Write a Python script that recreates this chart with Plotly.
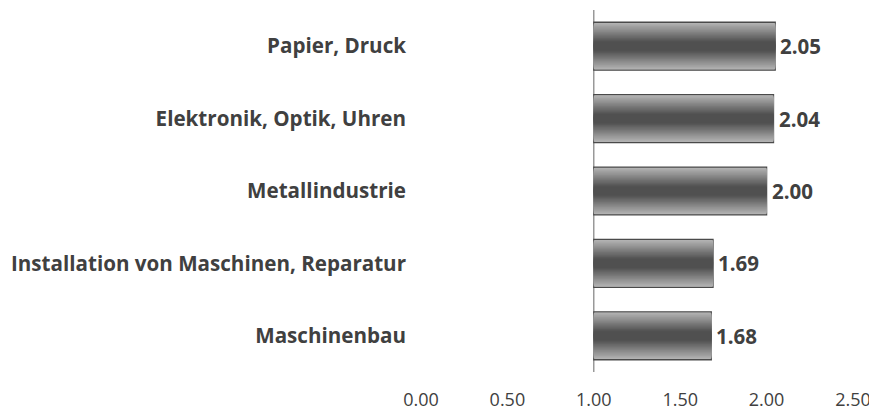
import plotly.graph_objects as go

categories = ["Papier, Druck", "Elektronik, Optik, Uhren", "Metallindustrie",
              "Installation von Maschinen, Reparatur", "Maschinenbau"]
values = [2.05, 2.04, 2.00, 1.69, 1.68]
value_labels = ["2.05", "2.04", "2.00", "1.69", "1.68"]
x_ticks = [0.0, 0.5, 1.0, 1.5, 2.0, 2.5]
x_tick_labels = ["0.00", "0.50", "1.00", "1.50", "2.00", "2.50"]
baseline = 1.0

fig = go.Figure()

# simulate vertical gradient (light edges -> dark centre) with overlaid bars
n_layers = 26
full_w = 0.662
light = (182, 182, 182)
dark = (80, 80, 80)
for k in range(n_layers):
    h = 1 - k / n_layers          # relative half-height of this layer
    f = min(1.0, max(0.0, (1 - h) / 0.8))
    c = tuple(int(round(light[i] + (dark[i] - light[i]) * f)) for i in range(3))
    first = (k == 0)
    fig.add_trace(go.Bar(
        y=categories,
        x=[v - baseline for v in values],
        base=baseline,
        orientation="h",
        width=full_w * h,
        marker=dict(color="rgb(%d,%d,%d)" % c,
                    line=dict(color="#4a4a4a" if first else "rgba(0,0,0,0)",
                              width=1.3 if first else 0)),
        hoverinfo="skip",
        showlegend=False,
    ))

for cat, v, lab in zip(categories, values, value_labels):
    fig.add_annotation(x=v, y=cat, xref="x", yref="y", text=lab, showarrow=False,
                       xanchor="left", xshift=3,
                       font=dict(family="Open Sans", size=20.5, color="#404040",
                                 weight="bold"))

fig.add_shape(type="line", xref="x", yref="paper", x0=baseline, x1=baseline,
              y0=0, y1=1, line=dict(color="#808080", width=1.2), layer="below")

fig.update_layout(
    width=877, height=415,
    margin=dict(l=413, r=32, t=2, b=51, autoexpand=False),
    paper_bgcolor="white", plot_bgcolor="white",
    barmode="overlay",
    font=dict(family="Open Sans", color="#404040"),
    xaxis=dict(range=[0, 2.5], tickvals=x_ticks, ticktext=x_tick_labels,
               showgrid=False, zeroline=False, showline=False,
               tickfont=dict(size=18, color="#404040"), ticks="",
               ticklabelstandoff=15),
    yaxis=dict(autorange="reversed", showgrid=False, zeroline=False,
               showline=False, ticks="",
               tickfont=dict(size=20.6, color="#404040", family="Open Sans", weight="bold"),
               ticklabelstandoff=14),
)

fig.write_html("out.html")
